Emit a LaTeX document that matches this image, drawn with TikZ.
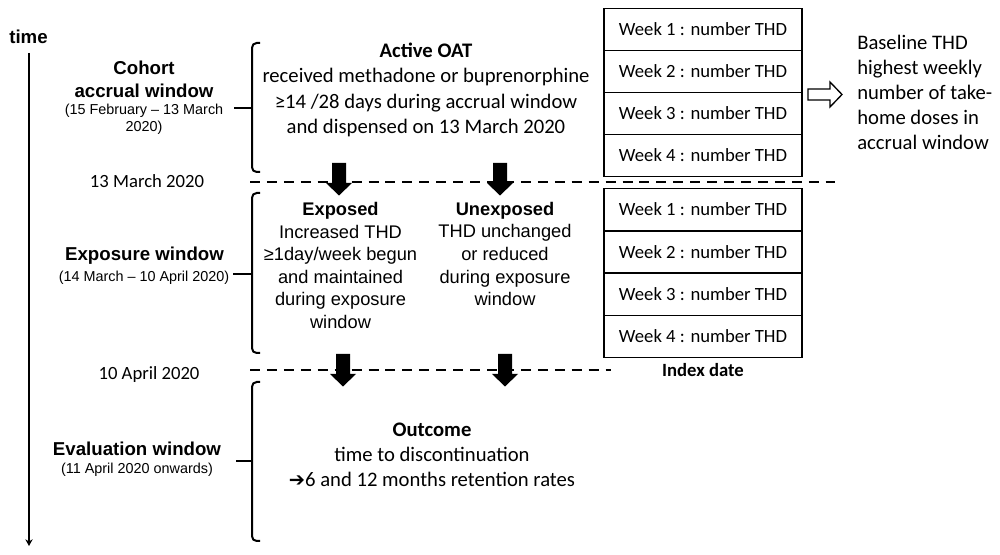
\documentclass[tikz,border=0pt]{standalone}
\usepackage{fontspec}
\setmainfont{Carlito}
\newfontfamily\arialf{Liberation Sans}
\newfontfamily\dejavuf{DejaVu Sans}
\usetikzlibrary{arrows.meta}
\begin{document}
\begin{tikzpicture}[x=0.75pt,y=-0.75pt,
  cal/.style={font=\fontsize{15.5}{19}\selectfont, align=center, inner sep=0pt},
  lbl/.style={font=\arialf\bfseries\fontsize{14}{17.25}\selectfont, align=center, inner sep=0pt},
  sml/.style={font=\arialf\fontsize{10.8}{12.75}\selectfont, align=center, inner sep=0pt},
  ari/.style={font=\arialf\fontsize{13.7}{16.9}\selectfont, align=center, inner sep=0pt},
  datelbl/.style={font=\fontsize{14}{17}\selectfont, inner sep=0pt},
  wk/.style={draw, line width=1.1pt, minimum width=148.5pt, minimum height=31.6pt, inner sep=0pt, font=\fontsize{14}{17}\selectfont},
  brace/.style={line width=1.5pt, rounded corners=3.5pt},
  dashline/.style={line width=2pt, dash pattern=on 7.5pt off 5.2pt},
  blk/.pic={\fill (-7,0) -- (7,0) -- (7,20) -- (13,20) -- (0,32.5) -- (-13,20) -- (-7,20) -- cycle;}
]
\useasboundingbox (0,0) rectangle (1000,555);

% time axis
\node[lbl] (time) at (28.5,37) {time};
\coordinate (tTop) at (29,53);
\coordinate (tBot) at (29,546);
\draw[line width=1.5pt, -{Stealth[length=5pt,width=5.5pt]}] (tTop) -- (tBot);

% left labels
\node[lbl] (cohort) at (144,79.5) {Cohort\\accrual window};
\node[sml] (cohortd) at (144,119.5) {(15 February – 13 March\\2020)};
\node[datelbl] (d1) at (147,181) {13 March 2020};
\node[lbl] (expw) at (144.5,256) {Exposure window};
\node[sml] (expwd) at (144,278) {(14 March – 10 April 2020)};
\node[datelbl] (d2) at (149,375) {10 April 2020};
\node[lbl] (evw) at (137,449) {Evaluation window};
\node[sml] (evwd) at (137,469.5) {(11 April 2020 onwards)};

% braces
\draw[brace] (260,43) -- (252,43) -- (252,172) -- (260,172);
\draw[line width=1.5pt] (234,108) -- (252,108);
\draw[brace] (260,193) -- (252,193) -- (252,353) -- (260,353);
\draw[line width=1.5pt] (233,274) -- (252,274);
\draw[brace] (260,382) -- (252,382) -- (252,541) -- (260,541);
\draw[line width=1.5pt] (236,461) -- (252,461);

% dashed lines
\coordinate (dA1) at (250,182);
\coordinate (dA2) at (835,182);
\coordinate (dB1) at (250,370);
\coordinate (dB2) at (611,370);
\draw[dashline] (dA1) -- (dA2);
\draw[dashline] (dB1) -- (dB2);

% main texts
\node[cal] (oat) at (426,90) {\textbf{Active OAT}\\received methadone or buprenorphine\\≥14 /28 days during accrual window\\and dispensed on 13 March 2020};
\node[ari] (exposed) at (340.5,265.5) {\textbf{Exposed}\\Increased THD\\≥1day/week begun\\and maintained\\during exposure\\window};
\node[ari] (unexp) at (505,254) {\textbf{Unexposed}\\THD unchanged\\or reduced\\during exposure\\window};
\node[cal, font=\fontsize{15.5}{18.75}\selectfont] (outcome) at (432,455) {\textbf{Outcome}\\time to discontinuation\\{\dejavuf\fontsize{14.5}{15}\selectfont ➔}6 and 12 months retention rates};

% block arrows
\pic at (339,163) {blk};
\pic at (500,163) {blk};
\pic at (343,354) {blk};
\pic at (505,354) {blk};

% week boxes (accrual)
\node[wk] (a1) at (703,29.5) {Week 1 : number THD};
\node[wk] (a2) at (703,71.5) {Week 2 : number THD};
\node[wk] (a3) at (703,113.5) {Week 3 : number THD};
\node[wk] (a4) at (703,155.5) {Week 4 : number THD};
% week boxes (exposure)
\node[wk] (b1) at (703,209.5) {Week 1 : number THD};
\node[wk] (b2) at (703,252) {Week 2 : number THD};
\node[wk] (b3) at (703,294.5) {Week 3 : number THD};
\node[wk] (b4) at (703,336.5) {Week 4 : number THD};
\node[font=\bfseries\fontsize{14}{17}\selectfont, inner sep=0pt] (idx) at (703,370) {Index date};

% open arrow and baseline text
\draw[line width=1pt, fill=white] (808,89) -- (830,89) -- (830,82) -- (842,94.5) -- (830,107) -- (830,100) -- (808,100) -- cycle;
\node[cal, align=left, anchor=west, font=\fontsize{15.5}{18.6}\selectfont] (base) at (857,92.5) {Baseline THD\\highest weekly\\number of take-\\home doses in\\accrual window};
\end{tikzpicture}
\end{document}
